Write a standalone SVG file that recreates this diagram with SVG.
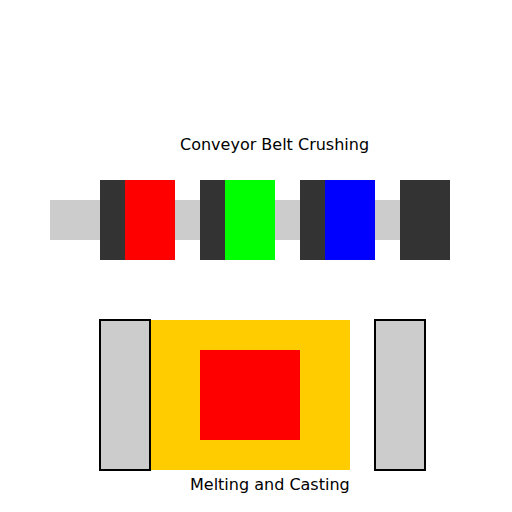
<svg xmlns="http://www.w3.org/2000/svg" width="512" height="512" viewBox="0 0 512 512">
<style>
.lbl{font-family:"DejaVu Sans",sans-serif;font-size:16px;fill:#000}
.dark{fill:#333}
.mold{fill:#ccc;stroke:#000;stroke-width:2}
</style>
<rect width="512" height="512" fill="#fff"/>
<g id="crushing">
<rect id="belt" x="50" y="200" width="400" height="40" fill="#ccc"/>
<g id="crusher1"><rect class="dark" x="100" y="180" width="25" height="80"/><rect x="125" y="180" width="50" height="80" fill="#f00"/></g>
<g id="crusher2"><rect class="dark" x="200" y="180" width="25" height="80"/><rect x="225" y="180" width="50" height="80" fill="#0f0"/></g>
<g id="crusher3"><rect class="dark" x="300" y="180" width="25" height="80"/><rect x="325" y="180" width="50" height="80" fill="#00f"/></g>
<g id="crusher4"><rect class="dark" x="400" y="180" width="50" height="80"/></g>
<text class="lbl" x="180" y="150">Conveyor Belt Crushing</text>
</g>
<g id="casting">
<rect id="furnace" x="150" y="320" width="200" height="150" fill="#fc0"/>
<rect id="melt" x="200" y="350" width="100" height="90" fill="#f00"/>
<rect id="moldL" class="mold" x="100" y="320" width="50" height="150"/>
<rect id="moldR" class="mold" x="375" y="320" width="50" height="150"/>
<text class="lbl" x="190" y="490">Melting and Casting</text>
</g>
<g id="connectors"/>
</svg>
